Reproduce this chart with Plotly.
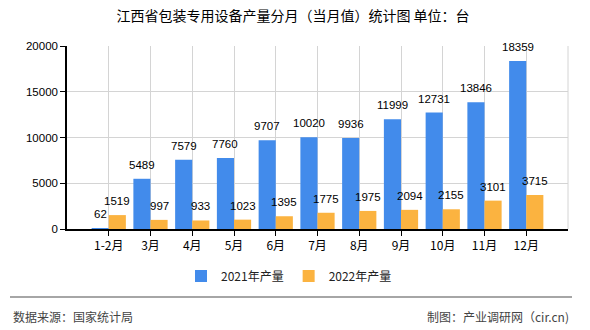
import plotly.graph_objects as go

categories = ["1-2月", "3月", "4月", "5月", "6月", "7月", "8月", "9月", "10月", "11月", "12月"]
output_2021 = [62, 5489, 7579, 7760, 9707, 10020, 9936, 11999, 12731, 13846, 18359]
output_2022 = [1519, 997, 933, 1023, 1395, 1775, 1975, 2094, 2155, 3101, 3715]
series_names = ["2021年产量", "2022年产量"]
y_ticks = [0, 5000, 10000, 15000, 20000]

BLUE = "#428BEB"
ORANGE = "#FBB340"
W, H = 590, 330
L, R, T, B = 67, 22, 46, 101
PH = H - T - B
PW = W - L - R

def py(px):  # pixel y -> paper y
    return (H - B - px) / PH

def px_(x):
    return (x - L) / PW

num_font = dict(family="Liberation Sans, Arial", size=11.5, color="#000000")

fig = go.Figure()
for name, vals, col in [(series_names[0], output_2021, BLUE), (series_names[1], output_2022, ORANGE)]:
    fig.add_trace(go.Bar(
        x=categories, y=vals, name=name, marker=dict(color=col, line=dict(width=0)),
        cliponaxis=False,
    ))

# value labels above the bars
annotations = []
bar_half_px = 8.6
for vals, shift in [(output_2021, -bar_half_px), (output_2022, bar_half_px)]:
    for c, v in zip(categories, vals):
        annotations.append(dict(x=c, y=v, xref="x", yref="y", text=str(v), showarrow=False,
                                xanchor="center", yanchor="bottom", xshift=shift, yshift=6,
                                font=num_font))

annotations += [
    dict(text="数据来源：国家统计局", xref="paper", yref="paper", x=px_(11), y=py(316),
         xanchor="left", yanchor="middle", showarrow=False,
         font=dict(family="Noto Sans CJK SC", size=12, color="#444")),
    dict(text="制图：产业调研网（cir.cn)", xref="paper", yref="paper", x=px_(571), y=py(316),
         xanchor="right", yanchor="middle", showarrow=False,
         font=dict(family="Noto Sans CJK SC", size=12, color="#444")),
]

fig.update_layout(
    width=W, height=H,
    margin=dict(l=L, r=R, t=T, b=B, autoexpand=False),
    paper_bgcolor="white", plot_bgcolor="white",
    barmode="group", bargap=0.18, bargroupgap=0,
    font=dict(family="Noto Sans CJK SC, sans-serif", color="#000"),
    title=dict(text="江西省包装专用设备产量分月（当月值）统计图 单位：台",
               x=293 / W, xref="container", xanchor="center",
               y=1 - 16 / H, yref="container", yanchor="middle",
               font=dict(family="Noto Sans CJK SC", size=14, color="#000")),
    showlegend=True,
    legend=dict(orientation="h", x=px_(289), xanchor="center", y=py(276), yanchor="middle",
                font=dict(family="Noto Sans CJK SC", size=12, color="#222"),
                itemwidth=30, traceorder="normal", bgcolor="rgba(0,0,0,0)"),
    xaxis=dict(type="category", range=[-1, 11], showgrid=True, gridcolor="#d4d4d4", gridwidth=1,
               showline=True, linecolor="#000", linewidth=1.5, ticks="outside", ticklen=5,
               tickcolor="#000", tickfont=dict(family="Noto Sans CJK SC", size=12, color="#000"),
               zeroline=False, fixedrange=True),
    yaxis=dict(range=[0, 20000], tickvals=y_ticks, ticktext=[str(v) for v in y_ticks],
               showgrid=True, gridcolor="#d4d4d4", gridwidth=1,
               showline=True, linecolor="#000", linewidth=1.5, ticks="outside", ticklen=5,
               tickcolor="#000", tickfont=num_font, zeroline=False, fixedrange=True),
    shapes=[
        dict(type="line", xref="paper", yref="paper", x0=1, x1=1, y0=0, y1=1,
             line=dict(color="#d4d4d4", width=1)),
        dict(type="line", xref="paper", yref="paper", x0=px_(10), x1=px_(572), y0=py(297), y1=py(297),
             line=dict(color="#888888", width=1.5)),
    ],
    annotations=annotations,
)

fig.write_html("out.html")
